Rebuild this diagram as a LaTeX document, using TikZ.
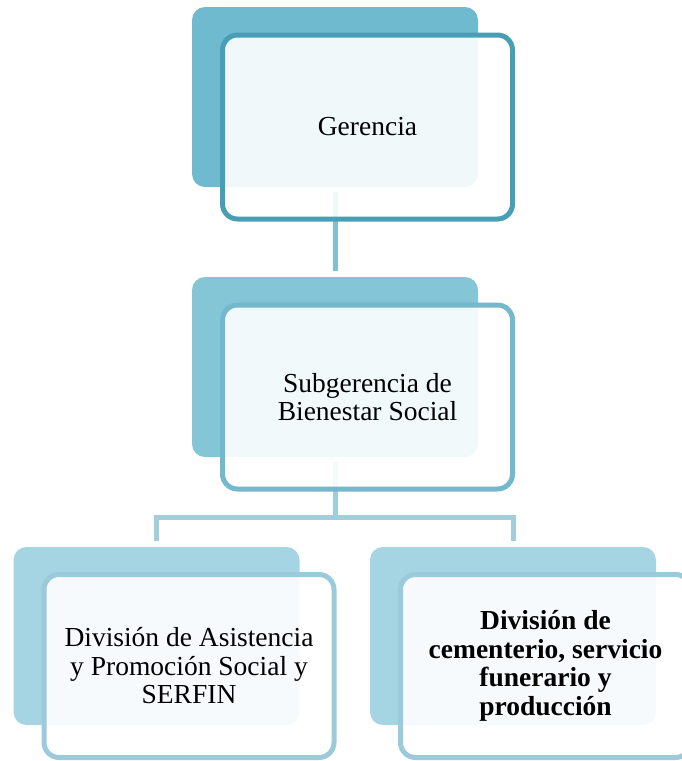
\documentclass[tikz,border=0pt]{standalone}
\usepackage{fontspec}
\setmainfont{Liberation Serif}
\definecolor{gerfill}{RGB}{111,186,207}
\definecolor{gerline}{RGB}{72,159,181}
\definecolor{subfill}{RGB}{132,197,214}
\definecolor{subline}{RGB}{115,184,204}
\definecolor{divfill}{RGB}{165,212,226}
\definecolor{divline}{RGB}{155,202,218}
\definecolor{linkone}{RGB}{127,192,211}
\definecolor{linktwo}{RGB}{160,206,221}

\begin{document}
\begin{tikzpicture}[x=1pt,y=-1pt,
    back/.style={rounded corners=13pt, minimum width=286pt, minimum height=180pt, inner sep=0pt},
    front/.style={rounded corners=15pt, line width=5pt, fill=white, fill opacity=0.9, text opacity=1,
        minimum width=290pt, minimum height=184pt, inner sep=0pt, align=center,
        font=\fontsize{27.5}{28.5}\selectfont},
    link/.style={line width=5pt}]
    \useasboundingbox (0,0) rectangle (681,761);

    % shadow boxes
    \node[back, fill=gerfill] (gerBack) at (335,97) {};
    \node[back, fill=subfill] (subBack) at (335,367) {};
    \node[back, fill=divfill, minimum height=178pt] (asisBack) at (156.5,636) {};
    \node[back, fill=divfill, minimum height=178pt] (cemBack) at (513,636) {};

    % connectors
    \coordinate (split) at (335,517);
    \draw[link, linkone, shorten <=5pt, shorten >=6pt] (gerBack.south) -- (subBack.north);
    \draw[link, linktwo, shorten <=5pt] (subBack.south) -- (split);
    \draw[link, linktwo, shorten >=6pt] (split) -| (asisBack.north);
    \draw[link, linktwo, shorten >=6pt] (split) -| (cemBack.north);

    % text boxes
    \node[front, draw=gerline] (gerFront) at ([shift={(32.5,30)}]gerBack.center) {Gerencia};
    \node[front, draw=subline] (subFront) at ([shift={(32.5,30)}]subBack.center)
        {Subgerencia de\\Bienestar Social};
    \node[front, draw=divline, minimum height=183pt] (asisFront) at ([shift={(32.5,30)}]asisBack.center)
        {División de Asistencia\\y Promoción Social y\\SERFIN};
    \node[front, draw=divline, minimum height=183pt] (cemFront) at ([shift={(32.5,30)}]cemBack.center)
        {\bfseries División de\\\bfseries cementerio, servicio\\\bfseries funerario y\\\bfseries producción};
\end{tikzpicture}
\end{document}
